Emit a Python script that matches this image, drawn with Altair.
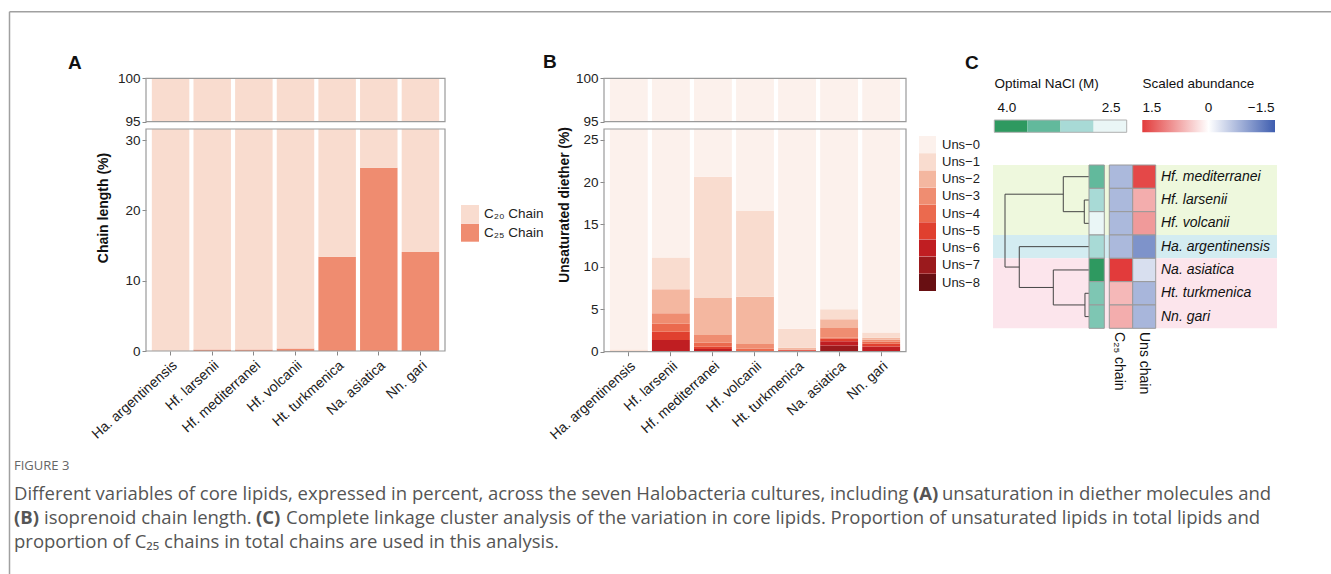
import altair as alt
import pandas as pd

FONT = "Liberation Sans"
TXT = "#222222"
FRAME = "#9a9a9a"

# ---------------- data ----------------
species = ["Ha. argentinensis", "Hf. larsenii", "Hf. mediterranei", "Hf. volcanii",
           "Ht. turkmenica", "Na. asiatica", "Nn. gari"]

# Panel A: % C25 chains (C20 = remainder)
c25_pct = [0.05, 0.2, 0.2, 0.35, 13.4, 26.1, 14.1]
chain_labels = ["C\u2082\u2080 Chain", "C\u2082\u2085 Chain"]
chain_colors = ["#F9DCCF", "#EF8C70"]

# Panel B: % of each unsaturation level (Uns-0 = remainder)
uns_levels = ["Uns\u22120", "Uns\u22121", "Uns\u22122", "Uns\u22123", "Uns\u22124",
              "Uns\u22125", "Uns\u22126", "Uns\u22127", "Uns\u22128"]
uns_colors = ["#FCF1EC", "#F9DCCF", "#F4B7A0", "#EF8D71", "#EB6A4E",
              "#E0402F", "#C01E22", "#9B1A1D", "#680F12"]
uns_1 = [0.15, 3.77, 14.31, 10.10, 2.23, 1.16, 0.60]
uns_2 = [0.12, 2.83, 4.36, 5.59, 0.20, 1.04, 0.25]
uns_3 = [0.00, 1.22, 0.87, 0.55, 0.05, 1.16, 0.20]
uns_4 = [0.00, 0.94, 0.50, 0.35, 0.00, 0.10, 0.25]
uns_5 = [0.00, 0.98, 0.27, 0.00, 0.10, 0.30, 0.35]
uns_6 = [0.00, 1.38, 0.32, 0.00, 0.12, 0.52, 0.60]
uns_7 = [0.00, 0.00, 0.00, 0.00, 0.00, 0.72, 0.00]
uns_8 = [0.00, 0.00, 0.00, 0.00, 0.00, 0.00, 0.00]

# Panel C
c_rows = ["Hf. mediterranei", "Hf. larsenii", "Hf. volcanii", "Ha. argentinensis",
          "Na. asiatica", "Ht. turkmenica", "Nn. gari"]
nacl_opt = [3.5, 3.0, 2.5, 3.0, 4.0, 3.3, 3.3]
c25_scaled = [-0.65, -0.65, -0.65, -0.65, 1.75, 0.54, 0.63]
uns_scaled = [1.40, 0.63, 0.77, -1.00, -0.30, -0.68, -0.68]
# hierarchical merges: (left, right, height); ints = row index, "mK" = merge K
merges = [(1, 2, 0.56), (5, 6, 0.48), (0, "m0", 3.06), (4, "m1", 4.25),
          (3, "m3", 8.30), ("m2", "m4", 10.0)]
groups = [(0, 2, "#EEF8DD"), (3, 3, "#D3ECF1"), (4, 6, "#FCE5EC")]
nacl_legend = [4.0, 3.5, 3.0, 2.5]
nacl_domain = [2.5, 3.0, 3.5, 4.0]
nacl_range = ["#EAF6F6", "#A8DAD6", "#62B99C", "#2E9960"]
heat_red, heat_white, heat_blue = "#E23B3B", "#FFFFFF", "#3E5DAF"

caption_head = "FIGURE 3"
# caption pieces: (text, bold, anchor x, line)
caption_parts = [
    ("Different variables of core lipids, expressed in percent, across the seven Halobacteria cultures, including", False, 14, 0),
    ("(A)", True, 913, 0),
    ("unsaturation in diether molecules and", False, 942, 0),
    ("(B)", True, 14, 1),
    ("isoprenoid chain length.", False, 44, 1),
    ("(C)", True, 256, 1),
    ("Complete linkage cluster analysis of the variation in core lipids. Proportion of unsaturated lipids in total lipids and", False, 286, 1),
    ("proportion of C\u2082\u2085 chains in total chains are used in this analysis.", False, 14, 2),
]

# ---------------- tables ----------------
rows_a = []
for s, v in zip(species, c25_pct):
    rows_a.append({"sp": s, "chain": chain_labels[1], "y0": 0.0, "y1": v})
    rows_a.append({"sp": s, "chain": chain_labels[0], "y0": v, "y1": 100.0})
df_a = pd.DataFrame(rows_a)

uns_series = [uns_1, uns_2, uns_3, uns_4, uns_5, uns_6, uns_7, uns_8]
rows_b = []
for i, s in enumerate(species):
    base = 0.0
    for lev in range(8, 0, -1):
        v = uns_series[lev - 1][i]
        rows_b.append({"sp": s, "lev": uns_levels[lev], "y0": base, "y1": base + v})
        base += v
    rows_b.append({"sp": s, "lev": uns_levels[0], "y0": base, "y1": 100.0})
df_b = pd.DataFrame(rows_b)

df_c = pd.DataFrame({"sp": c_rows, "idx": list(range(len(c_rows))),
                     "nacl": nacl_opt, "c25": c25_scaled, "uns": uns_scaled})
df_c["lo"] = df_c["idx"] - 0.5
df_c["hi"] = df_c["idx"] + 0.5

pos, hgt, segs = {}, {}, []
def node(n):
    if isinstance(n, int):
        return float(n), 0.0
    return pos[n], hgt[n]
for k, (a, b, h) in enumerate(merges):
    pa, ha = node(a)
    pb, hb = node(b)
    segs.append({"x0": ha, "x1": h, "p0": pa, "p1": pa})
    segs.append({"x0": hb, "x1": h, "p0": pb, "p1": pb})
    segs.append({"x0": h, "x1": h, "p0": pa, "p1": pb})
    pos["m%d" % k] = (pa + pb) / 2
    hgt["m%d" % k] = h
df_dend = pd.DataFrame(segs)
df_groups = pd.DataFrame([{"lo": a - 0.5, "hi": b + 0.5, "col": c} for a, b, c in groups])

# ---------------- helpers ----------------
ONE = pd.DataFrame({"k": [0]})

def text(t, x, y, size=13, weight="normal", style="normal", angle=0, align="left",
         baseline="alphabetic", color=TXT, font=FONT):
    return alt.Chart(pd.DataFrame({"t": [t]})).mark_text(
        align=align, baseline=baseline, fontSize=size, fontWeight=weight,
        fontStyle=style, angle=angle, color=color, font=font
    ).encode(x=alt.value(x), y=alt.value(y), text="t:N")

def frame(x0, x1, y0, y1, color=FRAME, sw=1.2):
    return alt.Chart(ONE).mark_rect(fillOpacity=0, stroke=color, strokeWidth=sw).encode(
        x=alt.value(x0), x2=alt.value(x1), y=alt.value(y0), y2=alt.value(y1))

def hline(x0, x1, y, color="#a0a0a0", sw=1.5):
    return alt.Chart(ONE).mark_rule(color=color, strokeWidth=sw).encode(
        x=alt.value(x0), x2=alt.value(x1), y=alt.value(y))

def vline(x, y0, y1, color="#a0a0a0", sw=1.5):
    return alt.Chart(ONE).mark_rule(color=color, strokeWidth=sw).encode(
        x=alt.value(x), y=alt.value(y0), y2=alt.value(y1))

def yaxis(x, values):
    return alt.Axis(orient="left", offset=-x, values=values, title=None, domain=False,
                    grid=False, tickColor="#888", tickSize=4, tickWidth=1,
                    labelFont=FONT, labelFontSize=13.5, labelColor=TXT, labelPadding=2)

def xaxis(y):
    return alt.Axis(orient="bottom", offset=y - 574, title=None, domain=False, grid=False,
                    tickColor="#888", tickSize=4, tickWidth=1, labelAngle=-42,
                    labelAlign="right", labelBaseline="top", labelPadding=3,
                    labelFont=FONT, labelFontSize=14, labelColor=TXT)

def band(x0, x1):
    return alt.Scale(domain=species, range=[x0, x1], paddingInner=0.1, paddingOuter=0.14)

def stacked(df, colfield, cdomain, crange, xr, yd, yr, yvals, xax, legend):
    return alt.Chart(df).mark_bar().encode(
        x=alt.X("sp:N", sort=species, scale=band(*xr), axis=xax),
        y=alt.Y("y0:Q", scale=alt.Scale(domain=yd, range=yr, clamp=True, nice=False, zero=False),
                axis=yaxis(xr[0], yvals)),
        y2="y1:Q",
        color=alt.Color(colfield, scale=alt.Scale(domain=cdomain, range=crange), legend=legend),
    )

layers = []

# ---------------- Panel A ----------------
AX = (146, 445)
leg_a = alt.Legend(orient="none", legendX=461, legendY=205, title=None, symbolType="square",
                   symbolSize=324, symbolStrokeWidth=0, symbolOpacity=1, labelFont=FONT,
                   labelFontSize=13.5, labelColor=TXT, rowPadding=0.7, labelOffset=5, padding=0)
layers.append(stacked(df_a, "chain:N", chain_labels, chain_colors, AX, [95, 100], [121.7, 78.3],
                      [95, 100], None, None))
layers.append(stacked(df_a, "chain:N", chain_labels, chain_colors, AX, [0, 31.6], [351, 129],
                      [0, 10, 20, 30], xaxis(351), leg_a))
layers.append(frame(AX[0], AX[1], 78.3, 121.7))
layers.append(frame(AX[0], AX[1], 129, 351))
layers.append(text("A", 68, 68.5, size=19, weight="bold", color="#111"))
layers.append(text("Chain length (%)", 104, 208, size=14, weight="bold", angle=270,
                   align="center", baseline="middle", color="#111"))

# ---------------- Panel B ----------------
BX = (604, 906)
leg_b = alt.Legend(orient="none", legendX=919, legendY=136, title=None, symbolType="square",
                   symbolSize=289, symbolStrokeWidth=0, symbolOpacity=1, labelFont=FONT,
                   labelFontSize=13, labelColor=TXT, rowPadding=0.25, labelOffset=6, padding=0)
layers.append(stacked(df_b, "lev:N", uns_levels, uns_colors, BX, [95, 100], [121.7, 78.3],
                      [95, 100], None, None))
layers.append(stacked(df_b, "lev:N", uns_levels, uns_colors, BX, [0, 26.26], [351.7, 129],
                      [0, 5, 10, 15, 20, 25], xaxis(351.7), leg_b))
layers.append(frame(BX[0], BX[1], 78.3, 121.7))
layers.append(frame(BX[0], BX[1], 129, 351.7))
layers.append(text("B", 543, 68, size=19, weight="bold", color="#111"))
layers.append(text("Unsaturated diether (%)", 565, 205, size=13.8, weight="bold", angle=270,
                   align="center", baseline="middle", color="#111"))

# ---------------- Panel C ----------------
ROWY = alt.Scale(domain=[-0.5, 6.5], range=[165, 328.3], nice=False, zero=False)
layers.append(alt.Chart(df_groups).mark_rect().encode(
    x=alt.value(993), x2=alt.value(1277),
    y=alt.Y("lo:Q", scale=ROWY, axis=None), y2="hi:Q",
    color=alt.Color("col:N", scale=None, legend=None)))
layers.append(alt.Chart(df_dend).mark_rule(color="#444", strokeWidth=1).encode(
    x=alt.X("x0:Q", scale=alt.Scale(domain=[0, 10], range=[1089, 1005], nice=False, zero=False),
            axis=None),
    x2="x1:Q",
    y=alt.Y("p0:Q", scale=alt.Scale(domain=[0, 6], range=[176.7, 316.6], nice=False, zero=False),
            axis=None),
    y2="p1:Q"))
layers.append(alt.Chart(df_c).mark_rect(stroke="#9a9a9a", strokeWidth=1).encode(
    x=alt.value(1089), x2=alt.value(1104.3),
    y=alt.Y("lo:Q", scale=ROWY, axis=None), y2="hi:Q",
    color=alt.Color("nacl:Q", scale=alt.Scale(domain=nacl_domain, range=nacl_range,
                                              interpolate="rgb"), legend=None)))
HEAT = alt.Scale(domain=[-1.5, 0, 1.5], range=[heat_blue, heat_white, heat_red],
                 interpolate="rgb", clamp=True)
layers.append(alt.Chart(df_c).mark_rect(stroke="#9a9a9a", strokeWidth=1).encode(
    x=alt.value(1109.3), x2=alt.value(1132.7),
    y=alt.Y("lo:Q", scale=ROWY, axis=None), y2="hi:Q",
    color=alt.Color("c25:Q", scale=HEAT, legend=None)))
layers.append(alt.Chart(df_c).mark_rect(stroke="#9a9a9a", strokeWidth=1).encode(
    x=alt.value(1132.7), x2=alt.value(1155.7),
    y=alt.Y("lo:Q", scale=ROWY, axis=None), y2="hi:Q",
    color=alt.Color("uns:Q", scale=HEAT, legend=None)))
layers.append(alt.Chart(df_c).mark_text(align="left", baseline="middle", fontSize=14,
                                        fontStyle="italic", font=FONT, color="#111").encode(
    x=alt.value(1161), y=alt.Y("idx:Q", scale=alt.Scale(domain=[-0.5, 6.5], range=[165, 328.3],
                                                        nice=False, zero=False), axis=None),
    text="sp:N"))
layers.append(text("C\u2082\u2085 chain", 1118.5, 332, size=14, angle=90, align="left",
                   baseline="middle", color="#111"))
layers.append(text("Uns chain", 1143.5, 332, size=14, angle=90, align="left",
                   baseline="middle", color="#111"))
# legends of panel C
df_nl = pd.DataFrame({"v": nacl_legend, "lab": [str(v) for v in nacl_legend]})
layers.append(alt.Chart(df_nl).mark_rect().encode(
    x=alt.X("lab:N", sort=[str(v) for v in nacl_legend],
            scale=alt.Scale(domain=[str(v) for v in nacl_legend], range=[994.3, 1126.7],
                            paddingInner=0, paddingOuter=0), axis=None),
    y=alt.value(120), y2=alt.value(132.3),
    color=alt.Color("v:Q", scale=alt.Scale(domain=nacl_domain, range=nacl_range,
                                           interpolate="rgb"), legend=None)))
layers.append(frame(994.3, 1126.7, 120, 132.3, color="#b0b0b0", sw=1))
layers.append(alt.Chart(ONE).mark_rect(fill=alt.Gradient(
    gradient="linear",
    stops=[alt.GradientStop(color=heat_red, offset=0), alt.GradientStop(color=heat_white, offset=0.5),
           alt.GradientStop(color=heat_blue, offset=1)],
    x1=0, x2=1, y1=0, y2=0)).encode(
    x=alt.value(1142.3), x2=alt.value(1275), y=alt.value(120), y2=alt.value(132.3)))
layers.append(text("Optimal NaCl (M)", 994.5, 88, size=13.5, color="#111"))
layers.append(text("4.0", 997.5, 112, size=13.5, color="#111"))
layers.append(text("2.5", 1120.5, 112, size=13.5, align="right", color="#111"))
layers.append(text("Scaled abundance", 1142.5, 88, size=13.5, color="#111"))
layers.append(text("1.5", 1142.5, 112, size=13.5, color="#111"))
layers.append(text("0", 1208.5, 112, size=13.5, align="center", color="#111"))
layers.append(text("\u22121.5", 1274.5, 112, size=13.5, align="right", color="#111"))
layers.append(text("C", 965, 68.5, size=19, weight="bold", color="#111"))

# ---------------- border and caption ----------------
layers.append(hline(9.5, 1331, 11.7))
layers.append(vline(9.5, 11.7, 574))
layers.append(text(caption_head, 14, 470, size=13, color="#666", font="Open Sans"))
for t, bold, ax, ln in caption_parts:
    layers.append(text(t, ax, 500 + 24 * ln, size=18.5, color="#555", font="Open Sans",
                       weight="bold" if bold else "normal", align="left"))

chart = alt.layer(*layers).resolve_scale(
    x="independent", y="independent", color="independent"
).properties(
    width=1331, height=574, padding=0, autosize=alt.AutoSizeParams(type="none")
).configure_view(stroke=None)

chart.save("out.html", embed_options={"renderer": "svg", "actions": False})
